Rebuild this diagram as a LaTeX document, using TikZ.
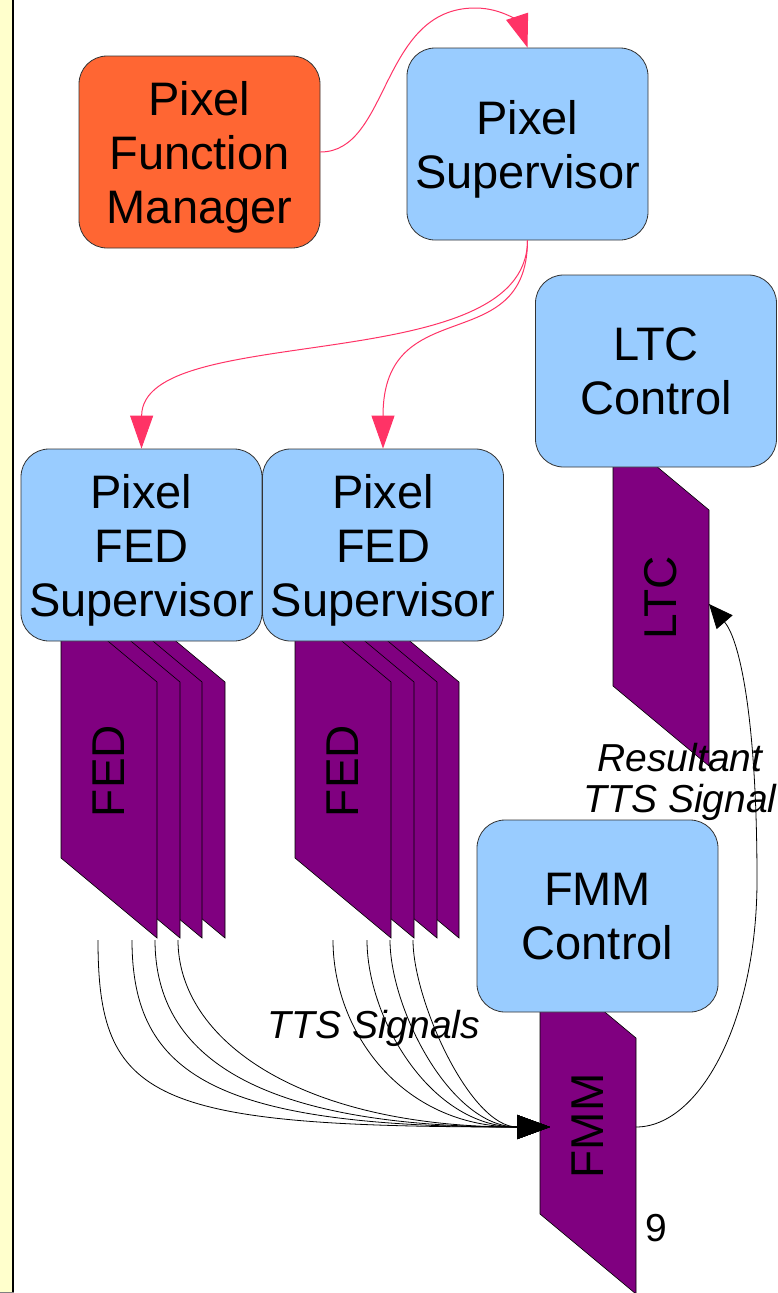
\documentclass[tikz,border=0pt]{standalone}
\usepackage{fontspec}
\setmainfont{Liberation Sans}
\usetikzlibrary{arrows.meta}
\definecolor{pfmorange}{HTML}{FF6633}
\definecolor{supblue}{HTML}{99CCFF}
\definecolor{hwpurple}{HTML}{800080}
\definecolor{stripyellow}{HTML}{FFFFCC}
\definecolor{linkpink}{HTML}{FF3366}
\definecolor{edgegray}{HTML}{333333}
\newcommand\hwcardat[2]{\draw[hwcard] (#1,#2) -- ++(96,80) -- ++(0,256) -- ++(-96,-80) -- cycle;}
\begin{document}
\begin{tikzpicture}[x=1pt,y=-1pt,
 box/.style={draw=edgegray, line width=0.8pt, rounded corners=28pt, minimum width=241pt, minimum height=192pt, inner sep=0pt, align=center, text depth=0pt, font=\fontsize{47}{54}\selectfont},
 supbox/.style={box, fill=supblue},
 hwcard/.style={fill=hwpurple, draw=black, line width=0.6pt},
 hwlabel/.style={rotate=90, inner sep=0pt, font=\fontsize{46}{54}\selectfont},
 sig/.style={inner sep=0pt, align=center, text depth=0pt, font=\fontsize{39}{41}\selectfont\itshape},
 ctrl/.style={draw=linkpink, line width=1pt, -{Triangle[length=33pt,width=23pt]}},
 tts/.style={draw=black, line width=0.8pt, -{Triangle[length=33pt,width=24pt]}},
 res/.style={draw=black, line width=0.8pt, -{Triangle[length=24pt,width=21pt]}}
]
\useasboundingbox (0,0) rectangle (778,1293);
% left strip
\fill[stripyellow] (0,0) rectangle (12,1292);
\draw[line width=2pt] (13,0) -- (13,1292);
\draw[gray, line width=1pt] (0,1292.5) -- (14,1292.5);

% FED cards, group 1 (back to front)
\hwcardat{129}{602}
\hwcardat{106}{602}
\hwcardat{84}{602}
\hwcardat{61}{602}
\node[hwlabel] (fedA) at (109,771) {FED};
% FED cards, group 2
\hwcardat{363}{602}
\hwcardat{341}{602}
\hwcardat{318}{602}
\hwcardat{295}{602}
\node[hwlabel] (fedB) at (343,771) {FED};
% LTC card
\hwcardat{613}{430}
\node[hwlabel] (ltc) at (661,598) {LTC};
% FMM card
\hwcardat{540}{958}
\node[hwlabel] (fmm) at (588,1126) {FMM};

% boxes
\node[box, fill=pfmorange] (pfm) at (199.5,152) {Pixel\\Function\\Manager};
\node[supbox] (ps) at (527.5,144) {Pixel\\Supervisor};
\node[supbox] (ltcc) at (656,371) {LTC\\Control};
\node[supbox] (fed1) at (141.5,545) {Pixel\\FED\\Supervisor};
\node[supbox] (fed2) at (383,545) {Pixel\\FED\\Supervisor};
\node[supbox] (fmmc) at (597.5,916) {FMM\\Control};

% labels
\node[sig, anchor=base] (ttslab) at (374,1038) {TTS Signals};
\node[sig, anchor=south] (reslab) at (680,813) {Resultant\\TTS Signal};
\node[inner sep=0pt, anchor=base, font=\fontsize{39}{41}\selectfont] (pagenum) at (656,1241) {9};

% control connectors
\draw[ctrl] (pfm.east) .. controls (390,152) and (380,8) .. (475,8) .. controls (505,8) and (520,25) .. (ps.north);
\draw[ctrl] (ps.south) .. controls (527,380) and (142,320) .. (fed1.north);
\draw[ctrl] (ps.south) .. controls (527,360) and (383,290) .. (fed2.north);

% TTS signals
\coordinate (t1) at (98,940);
\coordinate (t2) at (132,940);
\coordinate (t3) at (155,940);
\coordinate (t4) at (178,940);
\coordinate (t5) at (333,940);
\coordinate (t6) at (367,940);
\coordinate (t7) at (390,940);
\coordinate (t8) at (413,940);
\coordinate (fmmin) at (550,1127);
\draw[tts] (t1) .. controls (98,1100) and (150,1127) .. (fmmin);
\draw[tts] (t2) .. controls (132,1075) and (215,1127) .. (fmmin);
\draw[tts] (t3) .. controls (155,1058) and (260,1127) .. (fmmin);
\draw[tts] (t4) .. controls (178,1040) and (300,1127) .. (fmmin);
\draw[tts] (t5) .. controls (333,1030) and (400,1127) .. (fmmin);
\draw[tts] (t6) .. controls (367,1018) and (430,1127) .. (fmmin);
\draw[tts] (t7) .. controls (390,1008) and (450,1127) .. (fmmin);
\draw[tts] (t8) .. controls (413,1000) and (470,1127) .. (fmmin);

% resultant signal
\coordinate (fmmout) at (636,1127);
\coordinate (ltcin) at (709,604);
\draw[res] (fmmout) .. controls (700,1127) and (757,1020) .. (757,880) .. controls (757,720) and (740,640) .. (ltcin);
\end{tikzpicture}
\end{document}
